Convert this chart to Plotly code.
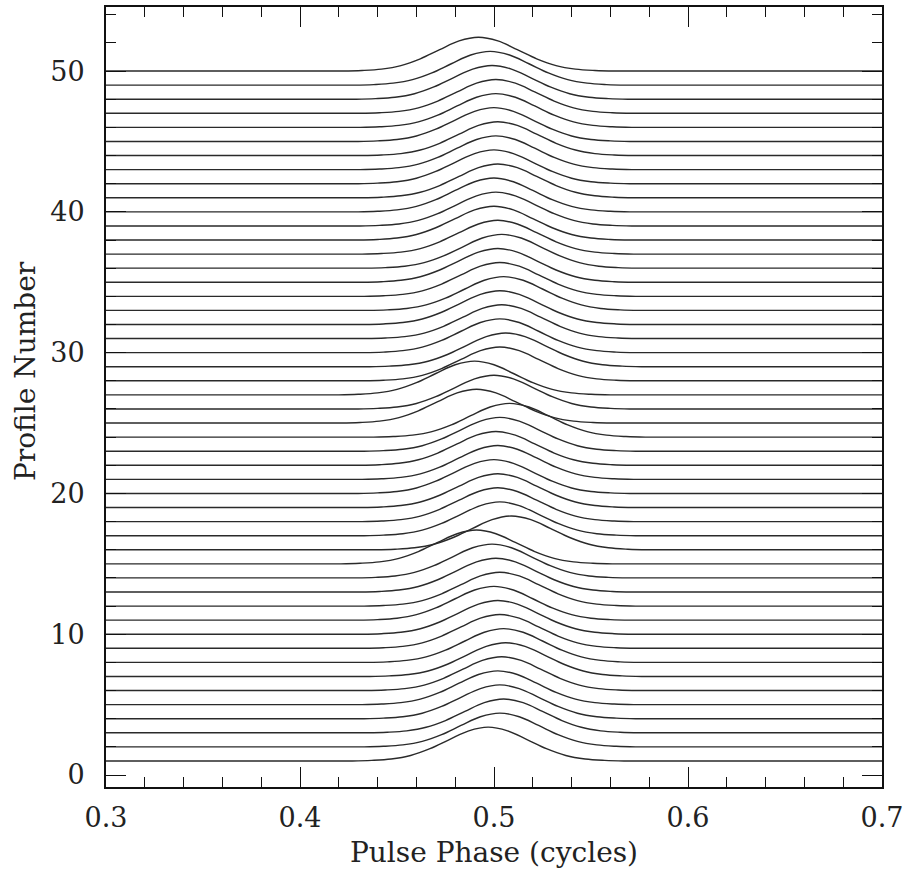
import plotly.graph_objects as go

# ---- data ----
profile_numbers = list(range(1, 51))
# phase of pulse peak for each profile (1..50)
profile_centers = [
    0.497, 0.503, 0.505, 0.503, 0.502, 0.504, 0.506, 0.505, 0.503, 0.502,
    0.500, 0.503, 0.501, 0.499, 0.491, 0.509, 0.503, 0.502, 0.502, 0.500,
    0.502, 0.501, 0.503, 0.508, 0.491, 0.500, 0.490, 0.503, 0.506, 0.503,
    0.504, 0.503, 0.505, 0.503, 0.502, 0.504, 0.502, 0.500, 0.501, 0.500,
    0.502, 0.500, 0.501, 0.502, 0.500, 0.501, 0.501, 0.499, 0.498, 0.492,
]
# template pulse shape: phase offset from peak and height above baseline
template_offsets = [-0.07, -0.06, -0.05, -0.04, -0.03, -0.02, -0.01, 0.0,
                    0.01, 0.02, 0.03, 0.04, 0.05, 0.06, 0.07]
template_heights = [0.0, 0.04, 0.14, 0.39, 0.87, 1.52, 2.14, 2.40,
                    2.14, 1.52, 0.87, 0.39, 0.14, 0.04, 0.0]
phase_start, phase_end = 0.3, 0.7
x_tick_vals = [0.3, 0.4, 0.5, 0.6, 0.7]
x_tick_text = ["0.3", "0.4", "0.5", "0.6", "0.7"]
y_tick_vals = [0, 10, 20, 30, 40, 50]
y_tick_text = ["0", "10", "20", "30", "40", "50"]
x_title = "Pulse Phase (cycles)"
y_title = "Profile Number"

fig = go.Figure()
for k, c in zip(profile_numbers, profile_centers):
    xs = [phase_start] + [c + o for o in template_offsets] + [phase_end]
    ys = [k] + [k + h for h in template_heights] + [k]
    fig.add_trace(go.Scatter(
        x=xs, y=ys, mode="lines",
        line=dict(color="#2a2a2a", width=1.4, shape="spline", smoothing=1.0),
        showlegend=False, hoverinfo="skip",
    ))

tick_font = dict(family="DejaVu Serif", size=27, color="#222")
title_font = dict(family="DejaVu Serif", size=28, color="#222")
axis_common = dict(
    showgrid=False, zeroline=False, showline=True, linecolor="#111",
    linewidth=2, mirror="ticks", ticks="inside", tickcolor="#111",
    tickwidth=1.3, tickfont=tick_font, automargin=False,
)
fig.update_layout(
    width=906, height=870,
    margin=dict(l=106, r=24, t=7, b=83),
    paper_bgcolor="white", plot_bgcolor="white",
    xaxis=dict(range=[0.3, 0.7], tickvals=x_tick_vals, ticktext=x_tick_text,
               ticklen=20, ticklabelstandoff=6,
               minor=dict(dtick=0.02, ticks="inside", ticklen=10,
                          tickcolor="#111", tickwidth=1.3),
               **axis_common),
    yaxis=dict(range=[-0.85, 54.55], tickvals=y_tick_vals, ticktext=y_tick_text,
               ticklen=20, ticklabelstandoff=14,
               minor=dict(dtick=2, tick0=0, ticks="inside", ticklen=10,
                          tickcolor="#111", tickwidth=1.3),
               **axis_common),
    annotations=[
        dict(text=x_title, xref="paper", yref="paper", x=0.5, y=0,
             xanchor="center", yanchor="middle", yshift=-65, showarrow=False,
             font=title_font),
        dict(text=y_title, xref="paper", yref="paper", x=0, y=0.5,
             xanchor="center", yanchor="middle", xshift=-81, yshift=26,
             textangle=-90, showarrow=False, font=title_font),
    ],
)
fig.write_html("out.html")
